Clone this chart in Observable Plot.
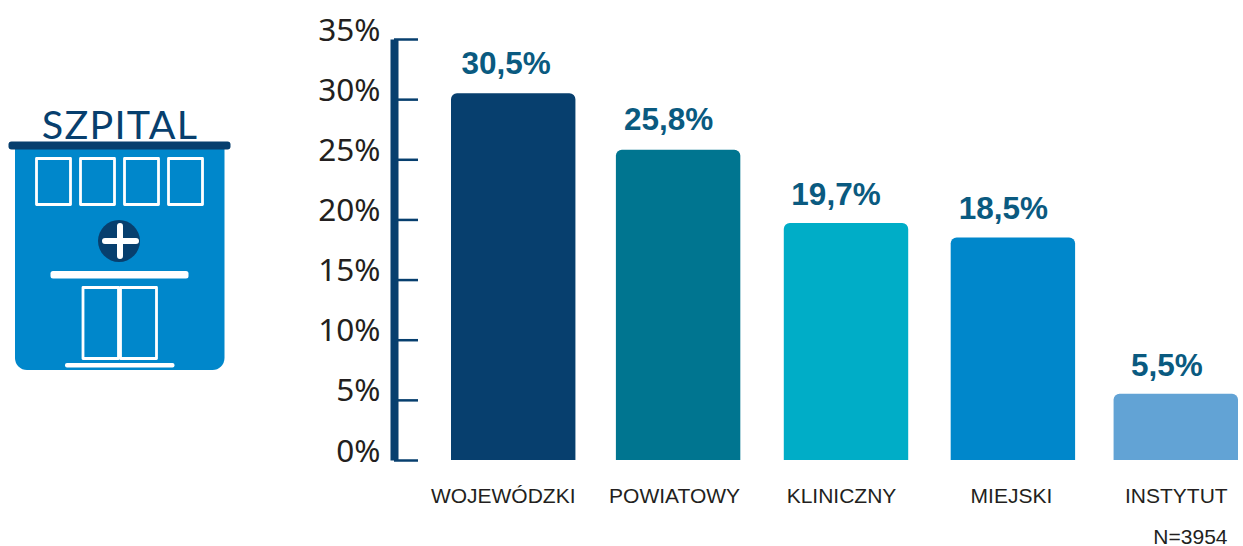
<!DOCTYPE html>
<html lang="pl">
<head>
<meta charset="utf-8">
<script src="https://cdn.jsdelivr.net/npm/d3@7"></script>
<script src="https://cdn.jsdelivr.net/npm/@observablehq/plot@0.6"></script>
<style>
html,body{margin:0;padding:0;background:#fff;}
#wrap{position:relative;width:1243px;height:546px;overflow:hidden;}
#wrap svg{position:absolute;left:0;top:0;}
</style>
</head>
<body>
<div id="wrap">
<svg id="icon" width="240" height="380" viewBox="0 0 240 380">
  <path d="M15 147H224.500V358a12 12 0 0 1-12 12H27a12 12 0 0 1-12-12Z" fill="#0087cb"/>
  <rect x="8.500" y="141.500" width="222" height="8" rx="3" fill="#073f6e"/>
  <text x="120" y="138.500" text-anchor="middle" font-family="Lato" font-size="39.500" letter-spacing="1.300" fill="#073f6e">SZPITAL</text>
  <g fill="none" stroke="#fff" stroke-width="2.8" stroke-linejoin="round">
    <rect x="36.500" y="158.500" width="34" height="46"/>
    <rect x="80.500" y="158.500" width="34" height="46"/>
    <rect x="124.500" y="158.500" width="34" height="46"/>
    <rect x="168.500" y="158.500" width="34" height="46"/>
    <rect x="83" y="287.500" width="35.500" height="71"/>
    <rect x="120.500" y="287.500" width="36" height="71"/>
  </g>
  <circle cx="119" cy="241" r="21" fill="#073f6e"/>
  <path d="M105 241H136M120 226V256" stroke="#fff" stroke-width="6" stroke-linecap="round"/>
  <rect x="50.500" y="271" width="138" height="7.500" rx="2.500" fill="#fff"/>
  <rect x="65" y="363" width="109.500" height="4.500" rx="2" fill="#fff"/>
</svg>
<div id="chart"></div>
</div>
<script>
const categories = ["WOJEWÓDZKI", "POWIATOWY", "KLINICZNY", "MIEJSKI", "INSTYTUT"];
const values = [30.5, 25.8, 19.7, 18.5, 5.5];
const valueLabels = ["30,5%", "25,8%", "19,7%", "18,5%", "5,5%"];
const barColors = ["#073f6e", "#007590", "#00adc7", "#0087cb", "#62a3d5"];
const yTicks = [0, 5, 10, 15, 20, 25, 30, 35];
const note = "N=3954";

// Hand offsets: the original's bars and labels are not evenly spaced.
const barNudges = [0, -1, 1, 2, -1];
const valueNudgesX = [-7.500, -11, -9.500, -8, -10.500];
const valueNudgesY = [-30, -30, -29, -29, -28];
const labelNudges = [-10.500, -5, -4, 0, -1];

const rows = categories.map((c, i) => ({category: c, value: values[i], label: valueLabels[i], color: barColors[i]}));
const ink = "#231f20", navy = "#073f6e";

const plot = Plot.plot({
  width: 1243,
  height: 546,
  marginLeft: 394,
  marginRight: 0,
  marginTop: 39,
  marginBottom: 86,
  style: {background: "transparent", overflow: "visible"},
  x: {domain: categories, range: [451, 1239], paddingInner: 0.25, paddingOuter: 0, round: false, axis: null},
  y: {domain: [0, 35], axis: null},
  marks: [
    ...rows.map((r, i) => Plot.barY([r], {x: "category", y: "value", fill: "color", ry1: 6, dx: barNudges[i]})),
    Plot.frame({anchor: "left", stroke: navy, strokeWidth: 8, strokeLinecap: "butt"}),
    Plot.axisY({
      ticks: yTicks,
      anchor: "left",
      tickSize: -24,
      text: null,
      strokeWidth: 2.500,
      stroke: navy,
      label: null
    }),
    Plot.axisY({
      ticks: yTicks,
      anchor: "left",
      tickSize: 0,
      tickPadding: 14,
      fontSize: 31.500,
      fontFamily: "Noto Sans",
      tickFormat: d => d + "%",
      fill: ink,
      dy: -9,
      label: null
    }),
    ...rows.map((r, i) => Plot.text([r], {
      x: "category", y: "value", text: "label", dx: valueNudgesX[i], dy: valueNudgesY[i],
      fill: "#0a5a80", fontSize: 31.500, fontWeight: 700, fontFamily: "Liberation Sans"
    })),
    ...categories.map((c, i) => Plot.text([c], {
      x: d => d, frameAnchor: "bottom", dy: 42, dx: labelNudges[i],
      fill: ink, fontSize: 21, fontFamily: "Liberation Sans"
    })),
    Plot.text([note], {
      frameAnchor: "bottom-right", dx: -16, dy: 83,
      fill: ink, fontSize: 21, fontFamily: "Liberation Sans", textAnchor: "end"
    })
  ]
});
document.getElementById("chart").appendChild(plot);
</script>
</body>
</html>
